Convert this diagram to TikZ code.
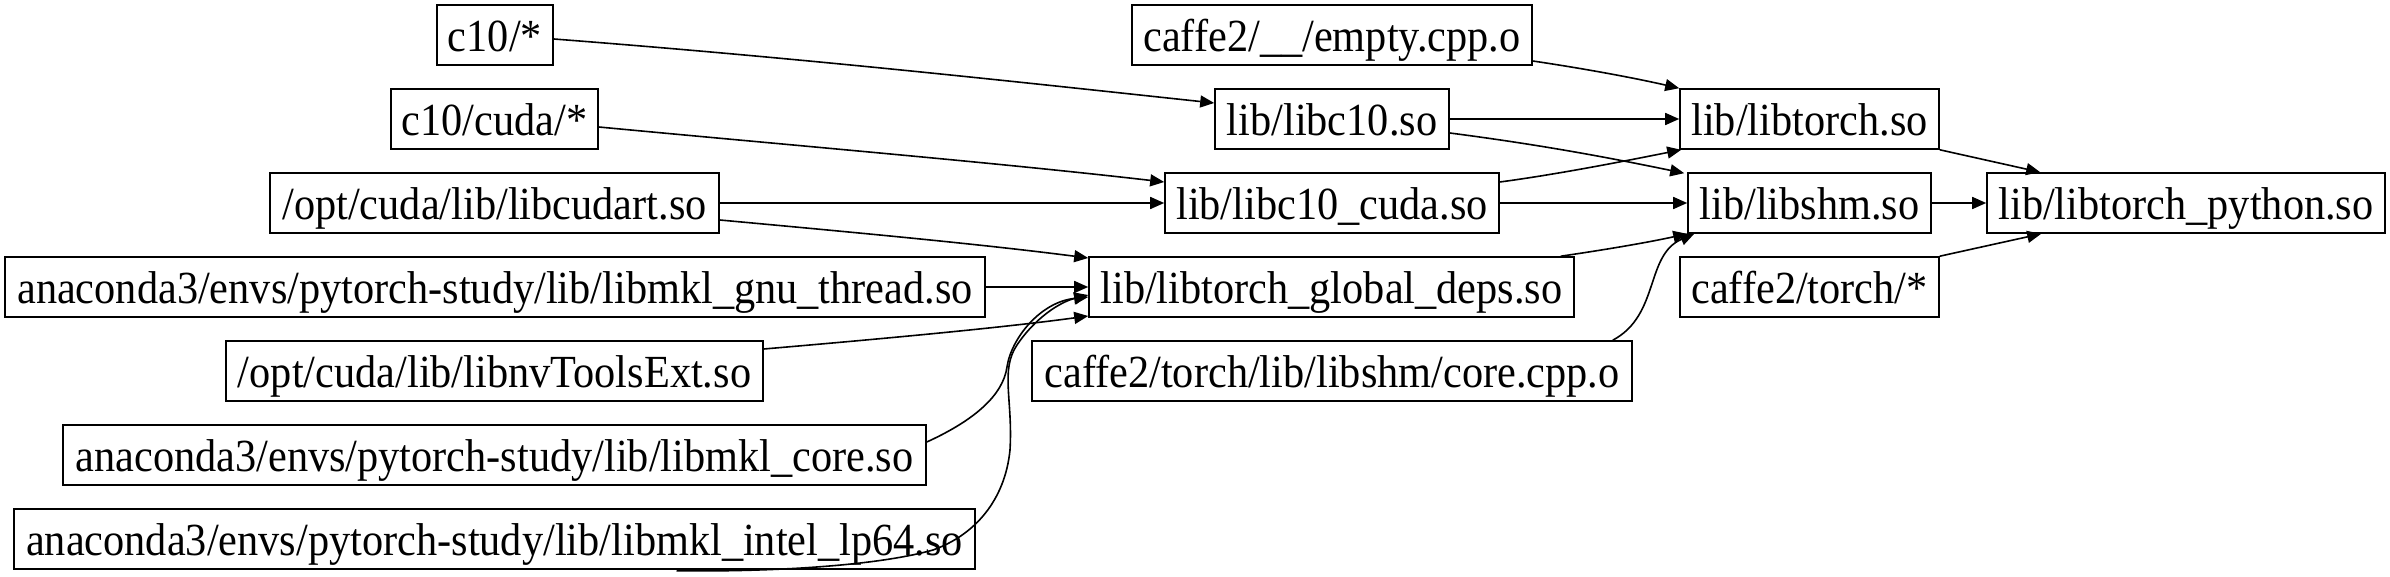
\documentclass[tikz,border=0pt]{standalone}
\usepackage{fontspec}
\setmainfont{Liberation Serif}[FakeStretch=0.92]
\usetikzlibrary{arrows.meta,calc}
\begin{document}
\begin{tikzpicture}[x=0.5pt,y=-0.5pt,
  box/.style={draw=black, line width=0.8pt, inner sep=0pt, minimum height=30pt,
    text height=20pt, text depth=3.7pt,
    font=\fontsize{23}{26}\selectfont},
  edge/.style={draw=black, line width=0.8pt, -{Triangle[length=7pt,width=6pt]}}]
\useasboundingbox (0,0) rectangle (2390,577);
% left column
\node[box, minimum width=58pt]    (c10)      at (495,35)    {c10/*};
\node[box, minimum width=103.5pt] (c10cuda)  at (494.5,119) {c10/cuda/*};
\node[box, minimum width=224.5pt] (cudart)   at (494.5,203) {/opt/cuda/lib/libcudart.so};
\node[box, minimum width=490pt]   (gnuthr)   at (495,287)   {anaconda3/envs/pytorch-study/lib/libmkl\_gnu\_thread.so};
\node[box, minimum width=268.5pt] (nvtools)  at (494.5,371) {/opt/cuda/lib/libnvToolsExt.so};
\node[box, minimum width=431.5pt] (mklcore)  at (494.5,455) {anaconda3/envs/pytorch-study/lib/libmkl\_core.so};
\node[box, minimum width=480.5pt] (lp64)     at (494.5,539) {anaconda3/envs/pytorch-study/lib/libmkl\_intel\_lp64.so};
% middle column
\node[box, minimum width=200pt]   (empty)    at (1332,35)   {caffe2/\_\_/empty.cpp.o};
\node[box, minimum width=117pt]   (libc10)   at (1332,119)  {lib/libc10.so};
\node[box, minimum width=167pt]   (libc10cu) at (1332,203)  {lib/libc10\_cuda.so};
\node[box, minimum width=242.5pt] (gdeps)    at (1331.5,287){lib/libtorch\_global\_deps.so};
\node[box, minimum width=300pt]   (corecpp)  at (1332,371)  {caffe2/torch/lib/libshm/core.cpp.o};
% right columns
\node[box, minimum width=129.5pt] (libtorch) at (1809.5,119){lib/libtorch.so};
\node[box, minimum width=121.5pt] (libshm)   at (1809.5,203){lib/libshm.so};
\node[box, minimum width=129.5pt] (ctorch)   at (1809.5,287){caffe2/torch/*};
\node[box, minimum width=199pt]   (python)   at (2186,203)  {lib/libtorch\_python.so};
% edges
\draw[edge] ($(c10.east)+(0,4)$) .. controls (800,58) and (1000,80) .. ($(libc10.west)+(0,-16)$);
\draw[edge] ($(c10cuda.east)+(0,8)$) .. controls (800,146) and (1000,163) .. ($(libc10cu.west)+(0,-21)$);
\draw[edge] (cudart.east) -- (libc10cu.west);
\draw[edge] ($(cudart.east)+(0,17)$) .. controls (850,232) and (980,244) .. ($(gdeps.west)+(0,-29)$);
\draw[edge] (gnuthr.east) -- (gdeps.west);
\draw[edge] ($(nvtools.east)+(0,-22)$) .. controls (880,339) and (1000,328) .. ($(gdeps.west)+(0,29)$);
\draw[edge] ($(mklcore.east)+(0,-13)$) .. controls (975,420) and (1003,395) .. (1007,367)
   .. controls (1011,339) and (1040,302) .. ($(gdeps.west)+(0,10)$);
\draw[edge] ($(lp64.south)+(182,1)$) .. controls (780,572) and (880,565) .. (933,550)
   .. controls (975,535) and (1005,500) .. (1010,450)
   .. controls (1013,400) and (1000,370) .. (1017,345)
   .. controls (1035,318) and (1060,302) .. ($(gdeps.west)+(0,8)$);
\draw[edge] ($(empty.east)+(0,26)$) .. controls (1580,68) and (1630,77) .. (libtorch.north west);
\draw[edge] (libc10.east) -- (libtorch.west);
\draw[edge] ($(libc10.east)+(0,14)$) .. controls (1550,146) and (1620,160) .. ($(libshm.north west)+(-3,1)$);
\draw[edge] ($(libc10cu.east)+(0,-21)$) .. controls (1560,174) and (1630,160) .. ($(libtorch.south west)+(2,0)$);
\draw[edge] (libc10cu.east) -- (libshm.west);
\draw[edge] ($(gdeps.north east)+(-14,0)$) .. controls (1610,249) and (1650,242) .. (libshm.south west);
\draw[edge] ($(corecpp.north east)+(-20,0)$) .. controls (1660,315) and (1645,255) .. ($(libshm.south west)+(7,0)$);
\draw[edge] (libtorch.south east) -- ($(python.north west)+(54,0)$);
\draw[edge] (libshm.east) -- (python.west);
\draw[edge] (ctorch.north east) -- ($(python.south west)+(55,0)$);
\end{tikzpicture}
\end{document}
